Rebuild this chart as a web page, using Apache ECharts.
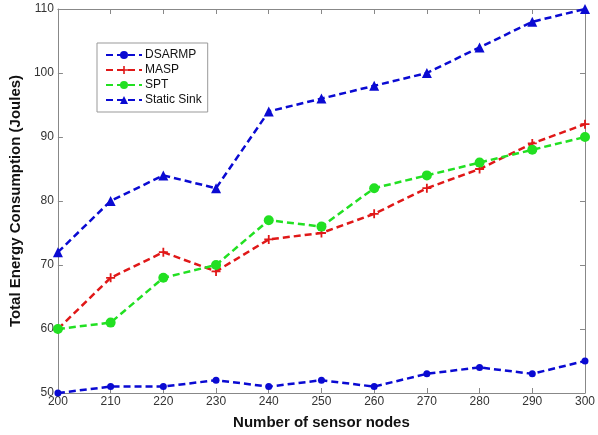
<!DOCTYPE html>
<html>
<head>
<meta charset="utf-8">
<script src="https://cdn.jsdelivr.net/npm/echarts@6/dist/echarts.min.js"></script>
<style>html,body{margin:0;padding:0;background:#fff}#c{width:598px;height:435px}</style>
</head>
<body>
<div id="c"></div>
<script>
var nodes = [200, 210, 220, 230, 240, 250, 260, 270, 280, 290, 300];
var dsarmp = [50, 51, 51, 52, 51, 52, 51, 53, 54, 53, 55];
var masp = [60, 68, 72, 69, 74, 75, 78, 82, 85, 89, 92];
var spt = [60, 61, 68, 70, 77, 76, 82, 84, 86, 88, 90];
var staticSink = [72, 80, 84, 82, 94, 96, 98, 100, 104, 108, 110];
var seriesNames = ['DSARMP', 'MASP', 'SPT', 'Static Sink'];

function pairs(ys) { return nodes.map(function (x, i) { return [x, ys[i]]; }); }
var plusPath = 'path://M4,0H6V4H10V6H6V10H4V6H0V4H4Z';

var chart = echarts.init(document.getElementById('c'));
var axisCol = '#888';
var labelCol = '#333';
function baseAxis(extra) {
  return Object.assign({
    type: 'value',
    axisLine: { show: true, onZero: false, lineStyle: { color: axisCol, width: 1 } },
    axisTick: { show: true, inside: true, length: 5, lineStyle: { color: axisCol } },
    splitLine: { show: false },
    axisLabel: { color: labelCol, fontFamily: 'Liberation Sans, Arial', fontSize: 12 }
  }, extra);
}
var lineDefs = [
  { name: seriesNames[0], data: dsarmp, color: '#0a0ad2', symbol: 'circle', size: 7 },
  { name: seriesNames[1], data: masp, color: '#e01818', symbol: plusPath, size: 9 },
  { name: seriesNames[2], data: spt, color: '#22e022', symbol: 'circle', size: 10 },
  { name: seriesNames[3], data: staticSink, color: '#0a0ad2', symbol: 'triangle', size: 10 }
];
chart.setOption({
  animation: false,
  grid: { left: 56, right: 10, top: 9, bottom: 38 },
  legend: {
    orient: 'vertical', left: 97, top: 43,
    backgroundColor: '#fff', borderColor: '#999', borderWidth: 1,
    padding: [6, 6, 6, 8], itemGap: 3, itemWidth: 36, itemHeight: 10,
    textStyle: { fontFamily: 'Liberation Sans, Arial', fontSize: 12, color: '#111', padding: [0, 0, 0, -2] },
    data: seriesNames
  },
  xAxis: [
    baseAxis({ min: 200, max: 300, interval: 10, position: 'bottom',
      name: 'Number of sensor nodes', nameLocation: 'middle', nameGap: 22,
      nameTextStyle: { fontFamily: 'Liberation Sans, Arial', fontSize: 15, fontWeight: 'bold', color: '#111' },
      axisLabel: { color: labelCol, fontFamily: 'Liberation Sans, Arial', fontSize: 12, margin: 3 } }),
    baseAxis({ min: 200, max: 300, interval: 10, position: 'top', axisLabel: { show: false } })
  ],
  yAxis: [
    baseAxis({ min: 50, max: 110, interval: 10, position: 'left',
      name: 'Total Energy Consumption (Joules)', nameLocation: 'middle', nameGap: 33,
      nameTextStyle: { fontFamily: 'Liberation Sans, Arial', fontSize: 15, fontWeight: 'bold', color: '#111' },
      axisLabel: { color: labelCol, fontFamily: 'Liberation Sans, Arial', fontSize: 12, margin: 4 } }),
    baseAxis({ min: 50, max: 110, interval: 10, position: 'right', axisLabel: { show: false } })
  ],
  series: lineDefs.map(function (d) {
    return {
      type: 'line', name: d.name, data: pairs(d.data),
      xAxisIndex: 0, yAxisIndex: 0,
      symbol: d.symbol, symbolSize: d.size, showAllSymbol: true,
      itemStyle: { color: d.color, borderWidth: 0 },
      lineStyle: { color: d.color, width: 2.5, type: [7, 4] }
    };
  })
});
</script>
</body>
</html>
